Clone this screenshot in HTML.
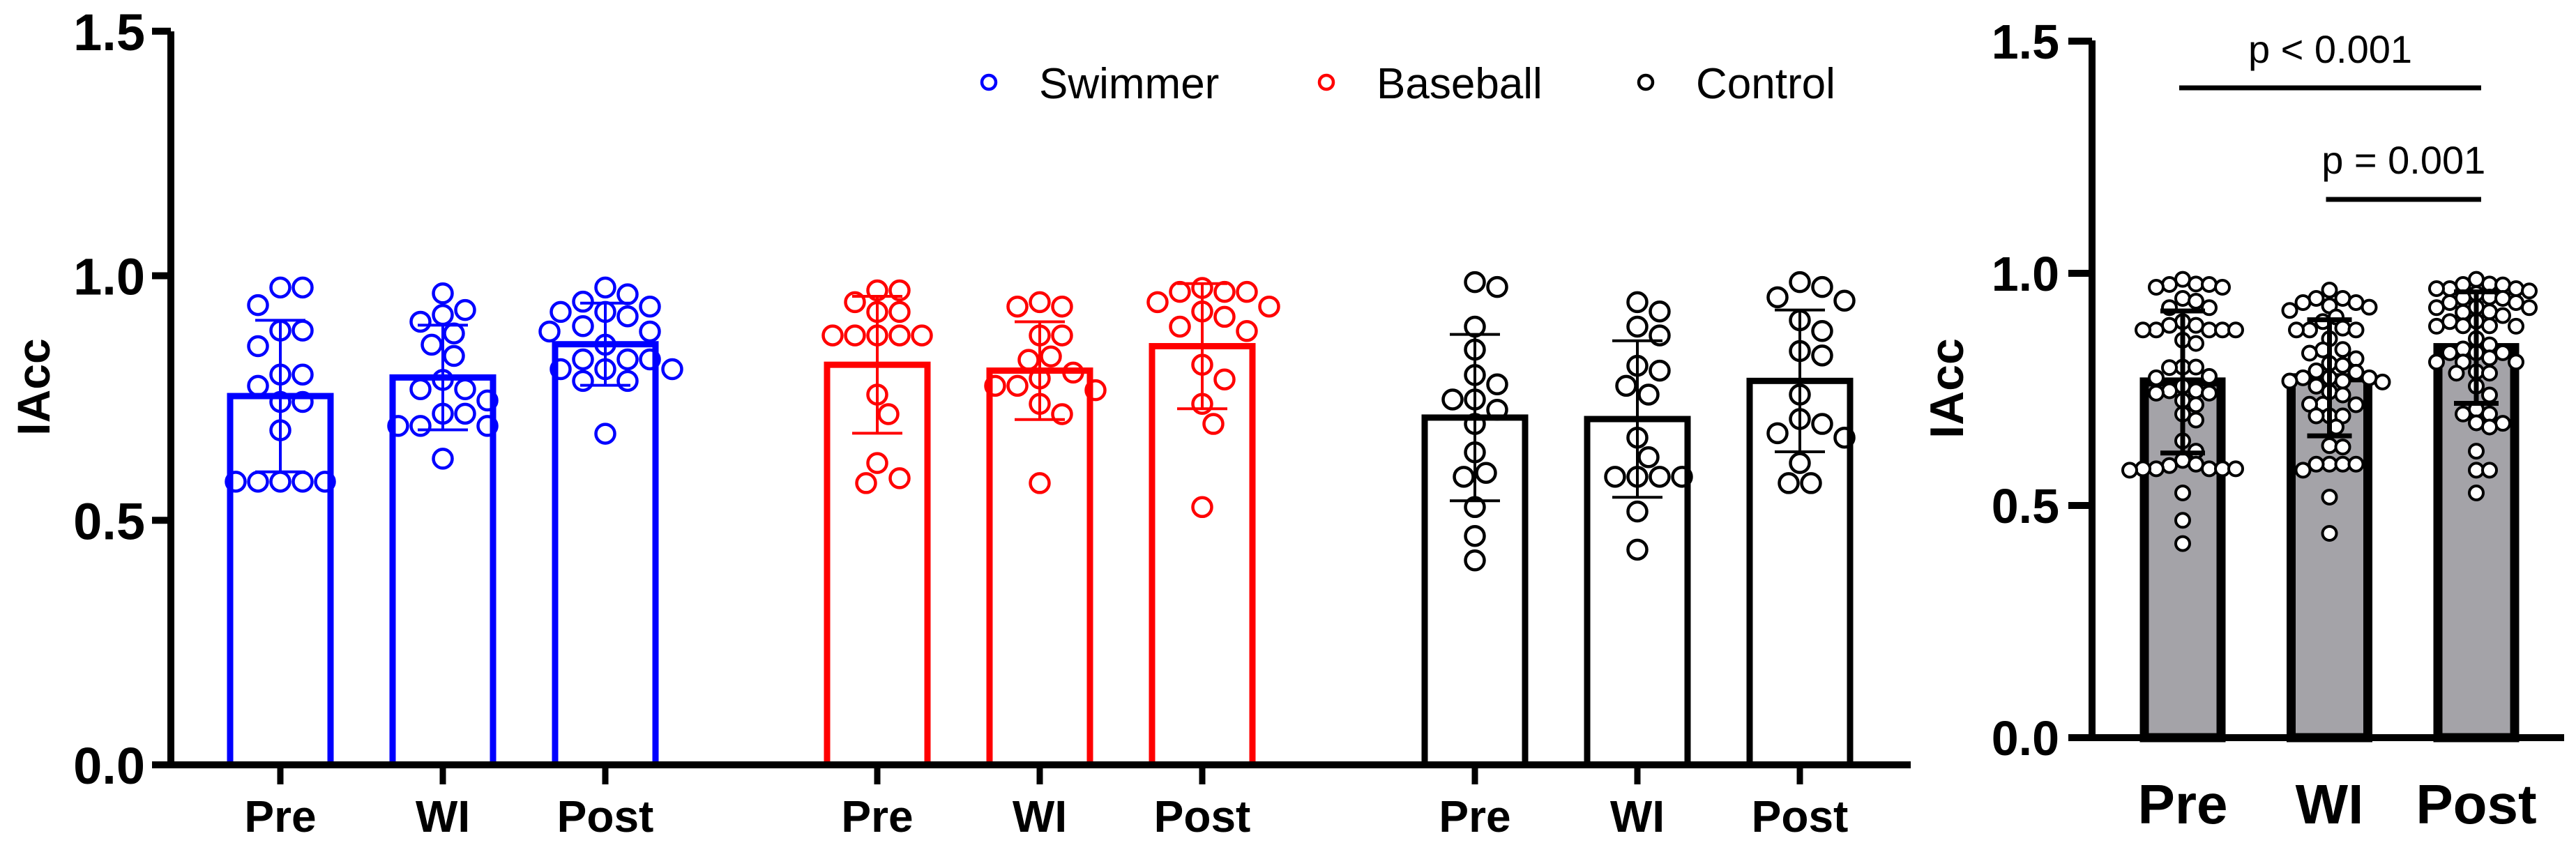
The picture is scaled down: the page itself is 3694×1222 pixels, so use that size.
<!DOCTYPE html>
<html><head><meta charset="utf-8">
<style>
html,body{margin:0;padding:0;background:#fff;}
svg{display:block;}
text{font-family:"Liberation Sans","Noto Sans CJK JP",sans-serif;}
</style></head>
<body>
<svg id="chart" width="3694" height="1222" viewBox="0 0 3694 1222" xmlns="http://www.w3.org/2000/svg"></svg>
<script>
const timeLabels = ["Pre","WI","Post"];
const groupNames = ["Swimmer","Baseball","Control"];
const yTicks = [0,0.5,1.0,1.5];
const yTickLabels = ["0.0","0.5","1.0","1.5"];
const swimmerPre = [0.976,0.976,0.94,0.888,0.888,0.856,0.798,0.798,0.775,0.742,0.742,0.684,0.579,0.579,0.579,0.579,0.579];
const swimmerWI = [0.964,0.93,0.92,0.906,0.882,0.859,0.836,0.787,0.768,0.768,0.745,0.718,0.718,0.693,0.693,0.693,0.626];
const swimmerPost = [0.976,0.962,0.947,0.937,0.926,0.926,0.917,0.897,0.886,0.886,0.859,0.829,0.829,0.829,0.809,0.809,0.809,0.785,0.785,0.677];
const baseballPre = [0.97,0.97,0.946,0.926,0.926,0.878,0.878,0.878,0.878,0.878,0.757,0.717,0.617,0.586,0.576];
const baseballWI = [0.946,0.937,0.937,0.878,0.878,0.835,0.828,0.802,0.79,0.775,0.775,0.766,0.738,0.717,0.576];
const baseballPost = [0.975,0.967,0.967,0.967,0.946,0.937,0.927,0.916,0.896,0.887,0.818,0.788,0.738,0.697,0.527];
const controlPre = [0.987,0.977,0.896,0.849,0.797,0.778,0.747,0.747,0.726,0.697,0.639,0.597,0.589,0.527,0.468,0.418];
const controlWI = [0.946,0.927,0.896,0.878,0.816,0.806,0.775,0.757,0.669,0.629,0.589,0.589,0.589,0.589,0.518,0.44];
const controlPost = [0.987,0.977,0.956,0.949,0.909,0.887,0.846,0.837,0.757,0.707,0.697,0.678,0.669,0.617,0.576,0.576];
const groupMeans = [[0.754,0.792,0.86],[0.818,0.806,0.856],[0.71,0.707,0.785]];
const groupSD = [[0.155,0.107,0.084],[0.14,0.10,0.128],[0.17,0.16,0.145]];
const totalMeans = [0.766,0.775,0.84];
const totalSD = [0.153,0.125,0.12];
const pLabels = ["p < 0.001","p = 0.001"];
const pPairs = [[0,2],[1,2]];

const NS="http://www.w3.org/2000/svg";
const svg=document.getElementById('chart');
function mk(tag,attrs,parent){const e=document.createElementNS(NS,tag);for(const k in attrs)e.setAttribute(k,attrs[k]);(parent||svg).appendChild(e);return e;}

const yL=v=>1097-701.5*v;
const yR=v=>1058-666*v;
const groupBase=[402,1258,2115];
const xL=(g,t)=>groupBase[g]+233*t;
const xR=t=>3130+210.5*t;
const colors=["#0000ff","#ff0000","#000000"];
const data=[[swimmerPre,swimmerWI,swimmerPost],[baseballPre,baseballWI,baseballPost],[controlPre,controlWI,controlPost]];

function swarm(vals,yf,cx,minD){
  const sorted=vals.slice().sort((a,b)=>b-a);const placed=[];
  sorted.forEach(v=>{const y=yf(v);
    const cands=[0];for(let i=1;i<14;i++){cands.push(i*minD*0.5,-i*minD*0.5);}
    for(const off of cands){let ok=true;for(const p of placed){const dx=p.x-(cx+off),dy=p.y-y;if(dx*dx+dy*dy<minD*minD*0.92){ok=false;break;}}
      if(ok){placed.push({x:cx+off,y:y});return;}}
    placed.push({x:cx,y:y});});
  return placed;
}

const left=mk('g',{});


for(let g=0;g<3;g++){
  for(let t=0;t<3;t++){
    const cx=xL(g,t),m=groupMeans[g][t],s=groupSD[g][t];
    const bar=mk('rect',{x:cx-72,y:yL(m),width:144,height:1097-yL(m),fill:'none',stroke:colors[g],'stroke-width':9},left);
    
    
    const pts=swarm(data[g][t],yL,cx,32);
    pts.forEach(p=>{const c=mk('circle',{cx:p.x,cy:p.y,r:13.5,fill:'none',stroke:colors[g],'stroke-width':4.5},left);
      
      });
    const eb=mk('g',{stroke:colors[g],'stroke-width':4},left);
    
    
    mk('line',{x1:cx,x2:cx,y1:yL(m+s),y2:yL(m-s)},eb);
    mk('line',{x1:cx-36,x2:cx+36,y1:yL(m+s),y2:yL(m+s)},eb);
    mk('line',{x1:cx-36,x2:cx+36,y1:yL(m-s),y2:yL(m-s)},eb);
    const tk=mk('line',{x1:cx,x2:cx,y1:1097,y2:1125,stroke:'#000','stroke-width':9},left);
    
    
    const lb=mk('text',{x:cx,y:1193,'font-size':64,'font-weight':'bold','text-anchor':'middle'},left);
    lb.textContent=timeLabels[t];
    
    
  }
}
const axL=mk('path',{d:'M245,45 L245,1097 M218,1097 L2740,1097',stroke:'#000','stroke-width':10,fill:'none'},left);


yTicks.forEach((v,i)=>{
  const tk=mk('line',{x1:218,x2:245,y1:yL(v),y2:yL(v),stroke:'#000','stroke-width':10},left);
  
  
  const t=mk('text',{x:208,y:yL(v)+27,'font-size':74,'font-weight':'bold','text-anchor':'end'},left);
  t.textContent=yTickLabels[i];
  
  
});
const ytL=mk('text',{x:71,y:555,'font-size':66,'font-weight':'bold','text-anchor':'middle',transform:'rotate(-90 71 555)'},left);
ytL.textContent='IAcc';



const legX=[1418,1902,2360];
groupNames.forEach((n,i)=>{
  const lg=mk('g',{},left);
  
  
  mk('circle',{cx:legX[i],cy:118,r:10,fill:'none',stroke:colors[i],'stroke-width':4.5},lg);
  const t=mk('text',{x:legX[i]+72,y:141,'font-size':62},lg);
  t.textContent=n;
});

const right=mk('g',{});


for(let t=0;t<3;t++){
  const cx=xR(t),m=totalMeans[t],s=totalSD[t];
  const bar=mk('rect',{x:cx-55,y:yR(m),width:110,height:1058-yR(m),fill:'#a4a3a8',stroke:'#000','stroke-width':13},right);
  
  
  const all=data[0][t].concat(data[1][t],data[2][t]);
  const pts=swarm(all,yR,cx,19);
  pts.forEach(p=>{const c=mk('circle',{cx:p.x,cy:p.y,r:10,fill:'#fff',stroke:'#000','stroke-width':4},right);
    
    });
  const eb=mk('g',{stroke:'#000','stroke-width':7},right);
  
  
  mk('line',{x1:cx,x2:cx,y1:yR(m+s),y2:yR(m-s)},eb);
  mk('line',{x1:cx-32,x2:cx+32,y1:yR(m+s),y2:yR(m+s)},eb);
  mk('line',{x1:cx-32,x2:cx+32,y1:yR(m-s),y2:yR(m-s)},eb);
  const lb=mk('text',{x:cx,y:1181,'font-size':80,'font-weight':'bold','text-anchor':'middle'},right);
  lb.textContent=timeLabels[t];
  
  
}
const axR=mk('path',{d:'M3000,58 L3000,1058 L3677,1058',stroke:'#000','stroke-width':10,fill:'none'},right);


yTicks.forEach((v,i)=>{
  const tk=mk('line',{x1:2966,x2:3000,y1:yR(v),y2:yR(v),stroke:'#000','stroke-width':10},right);
  
  
  const t=mk('text',{x:2953,y:yR(v)+25,'font-size':70,'font-weight':'bold','text-anchor':'end'},right);
  t.textContent=yTickLabels[i];
  
  
});
const ytR=mk('text',{x:2815,y:557,'font-size':68,'font-weight':'bold','text-anchor':'middle',transform:'rotate(-90 2815 557)'},right);
ytR.textContent='IAcc';


const pY=[126,286],pTY=[90,249];
pPairs.forEach((pr,i)=>{
  const x1=xR(pr[0])-5,x2=xR(pr[1])+7;
  const g=mk('g',{},right);
  
  
  mk('line',{x1:x1,x2:x2,y1:pY[i],y2:pY[i],stroke:'#000','stroke-width':7},g);
  const t=mk('text',{x:(x1+x2)/2,y:pTY[i],'font-size':56,'text-anchor':'middle'},g);
  t.textContent=pLabels[i];
});
</script>
</body></html>
